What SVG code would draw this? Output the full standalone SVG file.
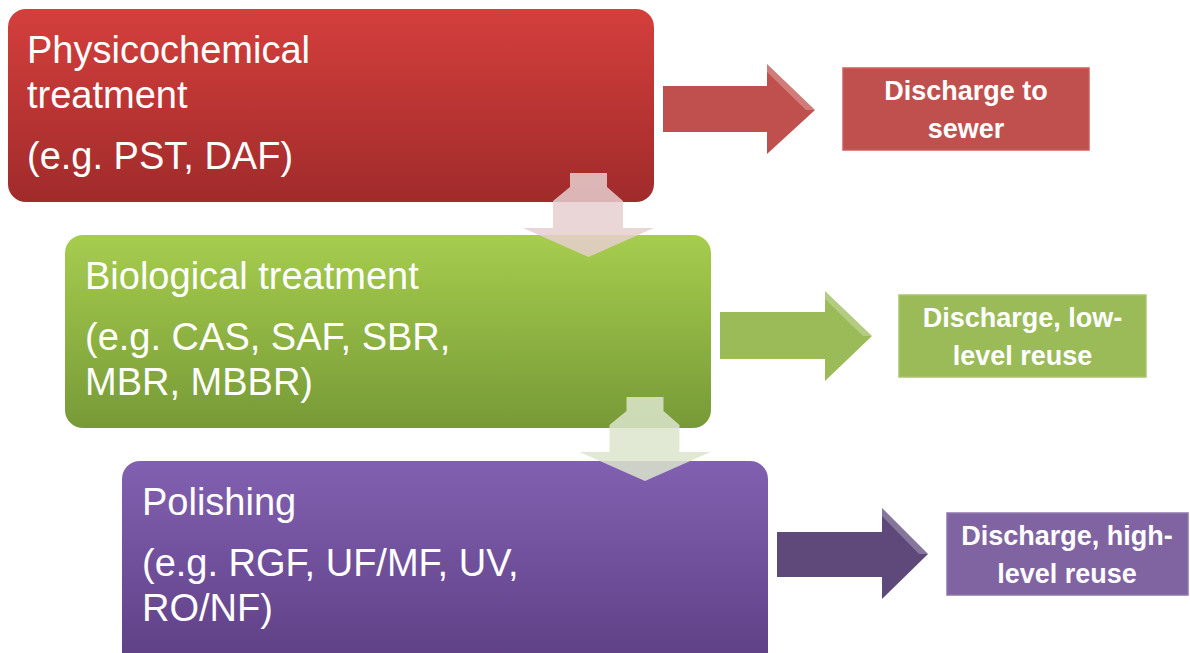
<svg xmlns="http://www.w3.org/2000/svg" width="1190" height="653" viewBox="0 0 1190 653">
<defs>
<linearGradient id="gRed" x1="0" y1="0" x2="0" y2="1"><stop offset="0" stop-color="#d43f3c"/><stop offset="1" stop-color="#a02b2b"/></linearGradient>
<linearGradient id="gGreen" x1="0" y1="0" x2="0" y2="1"><stop offset="0" stop-color="#a6cd4e"/><stop offset="1" stop-color="#779a37"/></linearGradient>
<linearGradient id="gPurple" x1="0" y1="0" x2="0" y2="1"><stop offset="0" stop-color="#8260b1"/><stop offset="1" stop-color="#5d3f84"/></linearGradient>
<path id="downArrow" d="M570,173 H607 V187 L623,201 V228 H654 L588.5,257 L523,228 H553 V201 L570,187 Z"/>
</defs>
<style>
.main{font-family:"Liberation Sans",Arial,sans-serif;font-size:38px;fill:#ffffff}
.lbl{font-family:"Liberation Sans",Arial,sans-serif;font-size:27px;font-weight:bold;fill:#ffffff;text-anchor:middle}
.hl{fill:#ffffff;opacity:0.25}
</style>
<rect width="1190" height="653" fill="#ffffff"/>

<g id="node-physicochemical">
<rect x="8" y="9" width="646" height="193" rx="18" fill="url(#gRed)"/>
<text class="main" x="27" y="63">Physicochemical</text>
<text class="main" x="27" y="108">treatment</text>
<text class="main" x="27" y="169">(e.g. PST, DAF)</text>
</g>

<g id="node-biological">
<rect x="65" y="235" width="646" height="193" rx="18" fill="url(#gGreen)"/>
<text class="main" x="85" y="289">Biological treatment</text>
<text class="main" x="85" y="350">(e.g. CAS, SAF, SBR,</text>
<text class="main" x="85" y="395">MBR, MBBR)</text>
</g>

<g id="node-polishing">
<rect x="122" y="461" width="646" height="210" rx="18" fill="url(#gPurple)"/>
<text class="main" x="142" y="515">Polishing</text>
<text class="main" x="142" y="576">(e.g. RGF, UF/MF, UV,</text>
<text class="main" x="142" y="621">RO/NF)</text>
</g>

<g id="node-sewer">
<rect x="843" y="68" width="246" height="82" fill="#c0504d" stroke="#c9605d" stroke-width="1.5"/>
<text class="lbl" x="966" y="100">Discharge to</text>
<text class="lbl" x="966" y="138">sewer</text>
</g>

<g id="node-lowreuse">
<rect x="899" y="295" width="247" height="82" fill="#9bbb59" stroke="#a9c56d" stroke-width="1.5"/>
<text class="lbl" x="1022.5" y="327">Discharge, low-</text>
<text class="lbl" x="1022.5" y="365">level reuse</text>
</g>

<g id="node-highreuse">
<rect x="947" y="513" width="241" height="82" fill="#8064a2" stroke="#8e74ad" stroke-width="1.5"/>
<text class="lbl" x="1067" y="545">Discharge, high-</text>
<text class="lbl" x="1067" y="583">level reuse</text>
</g>

<g id="connectors">
<use href="#downArrow" fill="#e6cfcf" fill-opacity="0.85"/>
<use href="#downArrow" transform="translate(56.5,224)" fill="#dce5cd" fill-opacity="0.85"/>

<path d="M663,86 H767 V64 L815,110 L767,154 V132 H663 Z" fill="#c0504d"/>
<path class="hl" d="M767,64 L815,110 L806,110 L767,72 Z"/>

<path d="M720,312 H825 V291 L872,336 L825,381 V359 H720 Z" fill="#9bbb59"/>
<path class="hl" d="M825,291 L872,336 L863,336 L825,299 Z"/>

<path d="M777,532 H882 V508 L928,554 L882,599 V577 H777 Z" fill="#5f497a"/>
<path class="hl" d="M882,508 L928,554 L919,554 L882,516 Z"/>
</g>
</svg>
